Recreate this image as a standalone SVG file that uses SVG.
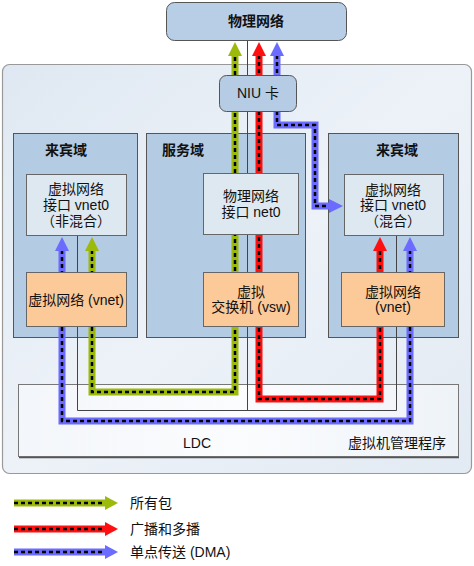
<svg xmlns="http://www.w3.org/2000/svg" width="474" height="566" viewBox="0 0 474 566">
<defs>
<linearGradient id="outerG" x1="0" y1="0" x2="1" y2="1">
<stop offset="0" stop-color="#dfe8f2"/>
<stop offset="0.5" stop-color="#edf2f8"/>
<stop offset="1" stop-color="#e2eaf3"/>
</linearGradient>
<linearGradient id="ldcG" x1="0" y1="0" x2="1" y2="0">
<stop offset="0" stop-color="#f3f6fa"/>
<stop offset="0.5" stop-color="#fbfcfe"/>
<stop offset="1" stop-color="#eef3f8"/>
</linearGradient>
<style>
text{font-family:"Liberation Sans","Noto Sans CJK SC",sans-serif;font-size:14px;fill:#111;text-anchor:middle}
.b{font-weight:bold}
.l{text-anchor:start}
.dom{fill:#b3cbe3;stroke:#555;stroke-width:1}
.inner{fill:#dde8f1;stroke:#666;stroke-width:1}
.org{fill:#fcc998;stroke:#666;stroke-width:1}
.thin{fill:none;stroke:#444;stroke-width:1}
.g{fill:none;stroke:#9cba0c;stroke-width:7}
.r{fill:none;stroke:#ff1010;stroke-width:7}
.bl{fill:none;stroke:#6b6bff;stroke-width:7}
.d{fill:none;stroke:#000;stroke-width:2.5;stroke-dasharray:4 3}
.gh{fill:#9cba0c}
.rh{fill:#ff1010}
.bh{fill:#6b6bff}
</style>
</defs>
<g id="outer">
<rect x="2.5" y="64.5" width="469" height="409" rx="7" fill="url(#outerG)" stroke="#999" stroke-width="1.2"/>
</g>
<g id="guest-left">
<rect class="dom" x="13.5" y="133.5" width="124" height="204"/>
<text class="b" x="66" y="155">来宾域</text>
</g>
<g id="service">
<rect class="dom" x="146.5" y="133.5" width="159" height="204"/>
<text class="b l" x="162" y="155">服务域</text>
</g>
<g id="guest-right">
<rect class="dom" x="328.5" y="133.5" width="130" height="204"/>
<text class="b" x="397" y="155">来宾域</text>
</g>
<g id="ldc">
<rect x="18.5" y="384.5" width="440" height="72" fill="url(#ldcG)" stroke="#777" stroke-width="1"/>
<line x1="19" y1="457.5" x2="459" y2="457.5" stroke="#555" stroke-width="1.5"/>
<text x="197" y="448">LDC</text>
<text x="397" y="448">虚拟机管理程序</text>
</g>
<g id="connectors">
<path class="thin" d="M247.5 40 V410.5 M77.5 235 V410.5 H396.5 V236"/>
<path class="g" d="M92 250 V392 H235 V55"/>
<path class="d" d="M92 250 V392 H235 V55"/>
<polygon class="gh" points="85,251 92,237 99,251"/>
<polygon class="gh" points="228,56 235,42 242,56"/>
<path class="r" d="M259 55 V399 H380 V250"/>
<path class="d" d="M259 55 V399 H380 V250"/>
<polygon class="rh" points="252,56 259,42 266,56"/>
<polygon class="rh" points="373,251 380,237 387,251"/>
<path class="bl" d="M277 55 V125 H315 V206 H330"/>
<path class="d" d="M277 55 V125 H315 V206 H330"/>
<polygon class="bh" points="270,56 277,42 284,56"/>
<polygon class="bh" points="329,199 343,206 329,213"/>
<path class="bl" d="M62 250 V421 H410 V250"/>
<path class="d" d="M62 250 V421 H410 V250"/>
<polygon class="bh" points="55,251 62,237 69,251"/>
<polygon class="bh" points="403,251 410,237 417,251"/>
</g>
<g id="vnet0-left">
<rect class="inner" x="26.5" y="174.5" width="100" height="61"/>
<text x="76" y="194">虚拟网络</text>
<text x="76" y="210">接口 vnet0</text>
<text x="76" y="226">（非混合）</text>
</g>
<g id="vnet-left">
<rect class="org" x="26.5" y="272.5" width="100" height="54"/>
<text x="76" y="305">虚拟网络 (vnet)</text>
</g>
<g id="net0">
<rect class="inner" x="203.5" y="173.5" width="95" height="61"/>
<text x="251" y="201">物理网络</text>
<text x="251" y="217">接口 net0</text>
</g>
<g id="vsw">
<rect class="org" x="203.5" y="272.5" width="95" height="54"/>
<text x="251" y="297">虚拟</text>
<text x="251" y="312">交换机 (vsw)</text>
</g>
<g id="vnet0-right">
<rect class="inner" x="344.5" y="174.5" width="99" height="61"/>
<text x="393" y="195">虚拟网络</text>
<text x="393" y="210">接口 vnet0</text>
<text x="393" y="226">（混合）</text>
</g>
<g id="vnet-right">
<rect class="org" x="341.5" y="272.5" width="103" height="54"/>
<text x="393" y="297">虚拟网络</text>
<text x="393" y="312">(vnet)</text>
</g>
<g id="niu">
<rect x="219.5" y="75.5" width="77" height="36" rx="7" fill="#b5cce4" stroke="#555" stroke-width="1"/>
<text x="258" y="98">NIU 卡</text>
</g>
<g id="phys-net">
<rect x="166.5" y="2.5" width="180" height="38" rx="8" fill="#b7cee6" stroke="#555" stroke-width="1"/>
<text class="b" x="256" y="26">物理网络</text>
</g>
<g id="legend">
<path class="g" d="M14 503 H106"/><path class="d" d="M14 503 H106"/>
<polygon class="gh" points="105,496 118,503 105,510"/>
<text class="l" x="130" y="508">所有包</text>
<path class="r" d="M14 529 H106"/><path class="d" d="M14 529 H106"/>
<polygon class="rh" points="105,522 118,529 105,536"/>
<text class="l" x="130" y="534">广播和多播</text>
<path class="bl" d="M14 552 H106"/><path class="d" d="M14 552 H106"/>
<polygon class="bh" points="105,545 118,552 105,559"/>
<text class="l" x="130" y="557">单点传送 (DMA)</text>
</g>
</svg>
